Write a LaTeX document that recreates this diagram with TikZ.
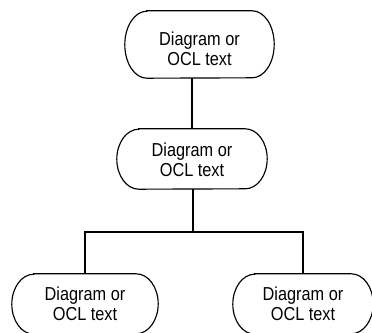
\documentclass[tikz,border=0pt]{standalone}
\usepackage{fontspec}
\setmainfont{Liberation Sans}
\newcommand\capsuleoutline[4]{% node name, x radius, y radius, vertical shift
  \draw[outl] ([xshift=#2,yshift=#4]#1.north west) -- ([xshift=-#2,yshift=#4]#1.north east)
    arc[start angle=90,end angle=-90,x radius=#2,y radius=#3]
    -- ([xshift=#2,yshift=#4]#1.south west)
    arc[start angle=-90,end angle=-270,x radius=#2,y radius=#3] -- cycle;}
\newcommand\tl[1]{\scalebox{1}[1.15]{#1}}
\begin{document}
\begin{tikzpicture}[x=1pt,y=-1pt,
  box/.style={rectangle,draw=none,inner sep=0pt,align=center,
    font=\fontsize{16.3}{19.5}\selectfont},
  outl/.style={line width=1.15pt,black},
  conn/.style={line width=1.15pt,black}]
\useasboundingbox (0,0) rectangle (372,332);
\node[box,minimum width=149pt,minimum height=67pt] (top) at (199.5,49) {\tl{Diagram or}\\\tl{OCL text}};
\node[box,minimum width=150pt,minimum height=60pt] (mid) at (192,160) {\tl{Diagram or}\\\tl{OCL text}};
\node[box,minimum width=146pt,minimum height=60pt] (bl) at (85,304) {\tl{Diagram or}\\\tl{OCL text}};
\node[box,minimum width=140pt,minimum height=60pt] (br) at (303,304) {\tl{Diagram or}\\\tl{OCL text}};
\capsuleoutline{top}{22pt}{33.5pt}{4.5pt}
\capsuleoutline{mid}{22pt}{30pt}{1pt}
\capsuleoutline{bl}{22pt}{30pt}{0pt}
\capsuleoutline{br}{22pt}{30pt}{0pt}
\coordinate (topb) at ([yshift=4.5pt]top.south);
\coordinate (midt) at ([yshift=1pt]mid.north);
\coordinate (midb) at ([yshift=1pt]mid.south);
\coordinate (bus) at (193,232);
\draw[conn] (topb -| midt) -- (midt);
\draw[conn] (midb -| bus) -- (bus);
\draw[conn] (bl.north) |- (bus) -| (br.north);
\end{tikzpicture}
\end{document}
